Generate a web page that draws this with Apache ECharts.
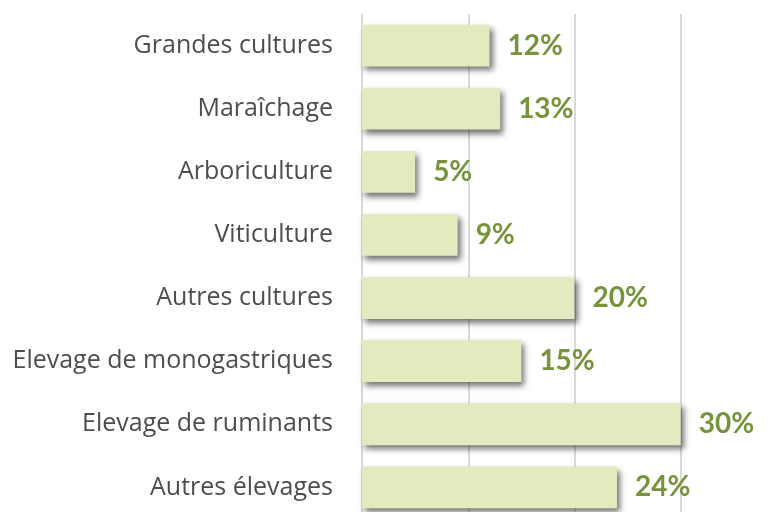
<!DOCTYPE html>
<html>
<head>
<meta charset="utf-8">
<script src="https://cdn.jsdelivr.net/npm/echarts@6/dist/echarts.min.js"></script>
<style>
  html, body { margin: 0; padding: 0; background: #fff; }
  #container { width: 776px; height: 512px; }
</style>
</head>
<body>
<div id="container"></div>
<script>
var categories = ['Grandes cultures', 'Maraîchage', 'Arboriculture', 'Viticulture',
  'Autres cultures', 'Elevage de monogastriques', 'Elevage de ruminants', 'Autres élevages'];
var shares = [12, 13, 5, 9, 20, 15, 30, 24];
var tickValues = [0, 10, 20, 30, 40];

var barColor = '#e2eac0';
var labelColor = '#77933c';

var dom = document.getElementById('container');
var myChart = echarts.init(dom);

var option = {
  animation: false,
  grid: {
    left: 362,
    width: 425,
    top: 14,
    height: 505,
    containLabel: false,
    outerBoundsMode: 'none'
  },
  xAxis: {
    type: 'value',
    min: tickValues[0],
    max: tickValues[tickValues.length - 1],
    interval: 10,
    axisLabel: { show: false },
    axisLine: { show: false },
    axisTick: { show: false },
    splitLine: { show: true, lineStyle: { color: '#d9d9d9', width: 2 } }
  },
  yAxis: {
    type: 'category',
    inverse: true,
    data: categories,
    axisLine: { show: false },
    axisTick: { show: false },
    axisLabel: {
      margin: 29,
      color: '#4d4d4d',
      fontFamily: 'Open Sans',
      fontSize: 25
    }
  },
  series: [
    {
      type: 'bar',
      data: shares,
      barCategoryGap: '34%',
      itemStyle: {
        color: barColor,
        shadowColor: 'rgba(0,0,0,0.55)',
        shadowBlur: 6,
        shadowOffsetX: 3,
        shadowOffsetY: 4
      },
      label: {
        show: true,
        position: 'right',
        distance: 18,
        formatter: '{c}%',
        color: labelColor,
        fontFamily: 'Lato',
        fontWeight: 'bold',
        fontSize: 28
      }
    }
  ]
};

myChart.setOption(option);
</script>
</body>
</html>
